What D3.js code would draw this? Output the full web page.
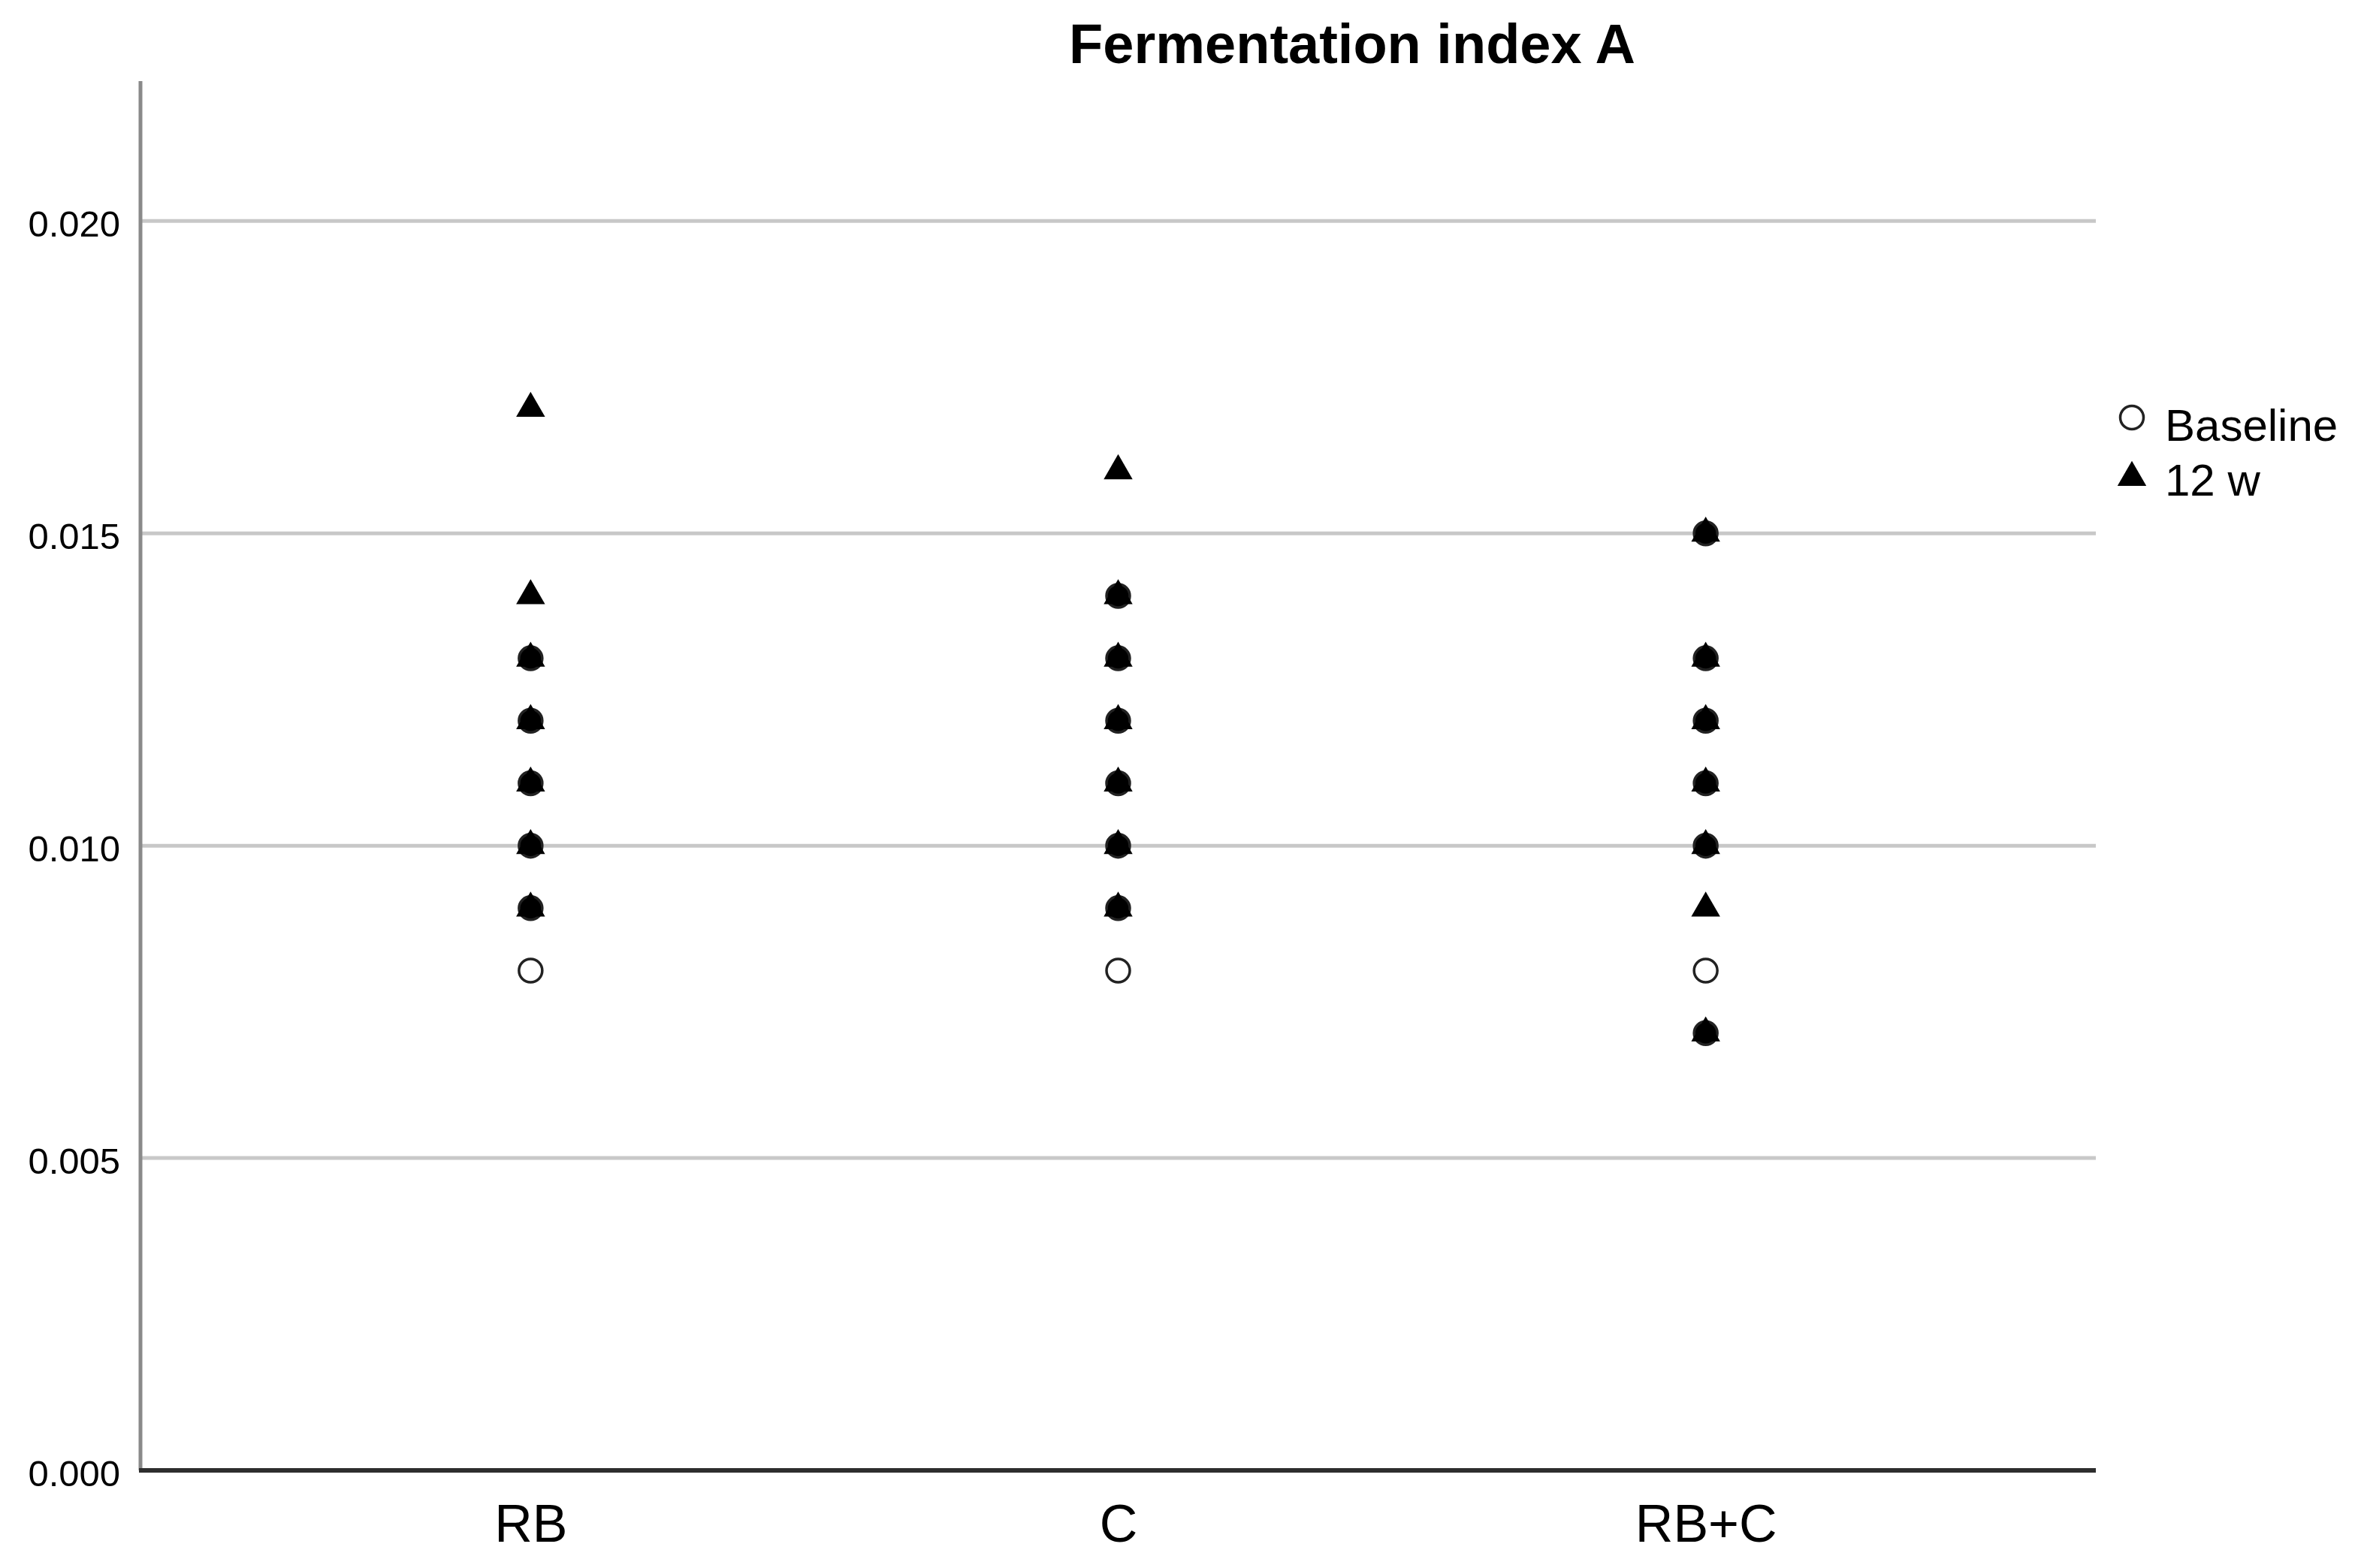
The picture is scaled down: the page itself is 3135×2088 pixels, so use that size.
<!DOCTYPE html>
<html>
<head>
<meta charset="utf-8">
<script src="https://cdn.jsdelivr.net/npm/d3@7"></script>
<style>
  body { margin: 0; background: #fff; }
  text { font-family: "Liberation Sans", Arial, sans-serif; fill: #000; }
</style>
</head>
<body>
<div id="chart"></div>
<script>
var outerWidth = 3135;
var outerHeight = 2088;

// groups on the x axis
var groups = ["RB", "C", "RB+C"];
var yTicks = [0.000, 0.005, 0.010, 0.015, 0.020];

// values, one list per group and time point
var baselineRB   = [0.013, 0.012, 0.011, 0.010, 0.009, 0.008];
var baselineC    = [0.014, 0.013, 0.012, 0.011, 0.010, 0.009, 0.008];
var baselineRBC  = [0.015, 0.013, 0.012, 0.011, 0.010, 0.008, 0.007];
var week12RB     = [0.017, 0.014, 0.013, 0.012, 0.011, 0.010, 0.009];
var week12C      = [0.016, 0.014, 0.013, 0.012, 0.011, 0.010, 0.009];
var week12RBC    = [0.015, 0.013, 0.012, 0.011, 0.010, 0.009, 0.007];

var baselineByGroup = { "RB": baselineRB, "C": baselineC, "RB+C": baselineRBC };
var week12ByGroup = { "RB": week12RB, "C": week12C, "RB+C": week12RBC };

var plotLeft = 187, plotRight = 2790, plotTop = 108, plotBottom = 1958;

var svg = d3.select("#chart").append("svg")
    .attr("width", outerWidth)
    .attr("height", outerHeight);

var x = d3.scalePoint()
    .domain(groups)
    .range([plotLeft, plotRight])
    .padding(0.664);

var y = d3.scaleLinear()
    .domain([0, 0.02224])
    .range([plotBottom, plotTop]);

// gridlines
svg.append("g").selectAll("line")
    .data(yTicks.filter(function(d) { return d > 0; }))
    .enter().append("line")
    .attr("x1", plotLeft).attr("x2", plotRight)
    .attr("y1", function(d) { return y(d); })
    .attr("y2", function(d) { return y(d); })
    .attr("stroke", "#c8c8c8")
    .attr("stroke-width", 5);

// y axis (labels only, no ticks)
var yAxis = d3.axisLeft(y)
    .tickValues(yTicks)
    .tickFormat(d3.format(".3f"))
    .tickSize(0)
    .tickPadding(27);

var gy = svg.append("g")
    .attr("transform", "translate(" + plotLeft + ",0)")
    .call(yAxis);
gy.select(".domain").remove();
gy.selectAll("text")
    .attr("font-size", 49)
    .attr("dy", "0.42em")
    .style("font-family", "'Liberation Sans', Arial, sans-serif");

svg.append("line")
    .attr("x1", plotLeft).attr("x2", plotLeft)
    .attr("y1", plotTop).attr("y2", plotBottom)
    .attr("stroke", "#8a8a8a")
    .attr("stroke-width", 5);

// x axis
var xAxis = d3.axisBottom(x).tickSize(0).tickPadding(0);
var gx = svg.append("g")
    .attr("transform", "translate(0," + plotBottom + ")")
    .call(xAxis);
gx.select(".domain").remove();
gx.selectAll("text")
    .attr("font-size", 70)
    .attr("y", 95)
    .attr("dy", 0)
    .style("font-family", "'Liberation Sans', Arial, sans-serif");

svg.append("line")
    .attr("x1", plotLeft - 2).attr("x2", plotRight)
    .attr("y1", plotBottom).attr("y2", plotBottom)
    .attr("stroke", "#2e2e2e")
    .attr("stroke-width", 6);

// points
var baselinePts = [];
var week12Pts = [];
groups.forEach(function(g) {
  baselineByGroup[g].forEach(function(v) {
    baselinePts.push({ group: g, value: v, overlap: week12ByGroup[g].indexOf(v) >= 0 });
  });
  week12ByGroup[g].forEach(function(v) {
    week12Pts.push({ group: g, value: v });
  });
});

var triangle = d3.symbol().type(d3.symbolTriangle).size(640);

svg.append("g").selectAll("circle")
    .data(baselinePts)
    .enter().append("circle")
    .attr("cx", function(d) { return x(d.group); })
    .attr("cy", function(d) { return y(d.value); })
    .attr("r", 15.5)
    .attr("fill", function(d) { return d.overlap ? "#000" : "#fff"; })
    .attr("stroke", "#222")
    .attr("stroke-width", 3.5);

svg.append("g").selectAll("path")
    .data(week12Pts)
    .enter().append("path")
    .attr("d", triangle)
    .attr("transform", function(d) { return "translate(" + x(d.group) + "," + y(d.value) + ")"; })
    .attr("fill", "#000");

// title
svg.append("text")
    .attr("x", 1800)
    .attr("y", 84)
    .attr("text-anchor", "middle")
    .attr("font-size", 74)
    .attr("font-weight", "bold")
    .text("Fermentation index A");

// legend
var legend = svg.append("g");
legend.append("circle")
    .attr("cx", 2838).attr("cy", 556).attr("r", 15.5)
    .attr("fill", "#fff").attr("stroke", "#222").attr("stroke-width", 3.5);
legend.append("text")
    .attr("x", 2882).attr("y", 587)
    .attr("font-size", 60)
    .text("Baseline");
legend.append("path")
    .attr("d", triangle)
    .attr("transform", "translate(2838,636)")
    .attr("fill", "#000");
legend.append("text")
    .attr("x", 2882).attr("y", 660)
    .attr("font-size", 60)
    .text("12 w");
</script>
</body>
</html>
